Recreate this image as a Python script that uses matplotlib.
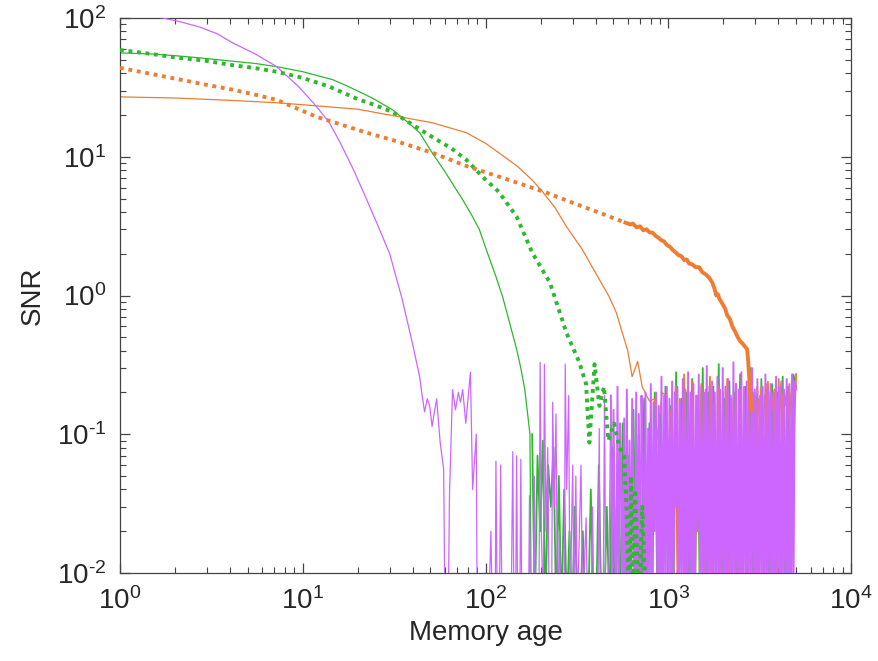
import matplotlib
matplotlib.use('Agg')
import matplotlib.pyplot as plt
import numpy as np
from matplotlib.ticker import FuncFormatter

plt.rcParams['font.family'] = ['Liberation Sans', 'DejaVu Sans']
plt.rcParams['mathtext.fontset'] = 'custom'
plt.rcParams['mathtext.rm'] = 'Liberation Sans'
plt.rcParams['mathtext.it'] = 'Liberation Sans:italic'
plt.rcParams['axes.unicode_minus'] = False

PURPLE = '#cc66ff'
GREEN = '#2db82d'
ORANGE = '#ee7d31'
LOW = 0.005  # noise dips below the axis floor

# purple solid: smooth decay + first noisy part
purple_x = [1, 1.3, 1.72, 2.2, 2.73, 3.4, 4.15, 5.5, 7.2, 9.5, 11.9, 14, 16, 19, 22.4, 26, 29.9,
            35, 40, 43.6, 45, 46.4, 48, 49.5, 51, 54, 56.5, 59, 60, 62.5, 63.5, 66, 68.5, 71, 73,
            75, 78, 82.7, 85, 89, 90,
            104, 107, 109, 113, 114, 116, 119, 121, 123, 138, 141, 143, 146, 148, 150, 154, 156,
            158, 172, 174, 176, 183, 185, 188, 196, 199, 202, 207, 210, 214, 219, 223, 230, 233,
            238, 243, 248, 254, 258, 270, 273, 278, 285, 290, 300, 305, 312, 318, 333, 340, 355,
            362, 378, 385, 392, 412, 419, 425, 440, 448, 455, 470]
purple_y = [112, 107, 100, 93, 86, 77, 66, 55, 44.6, 32, 23, 17.5, 12.7, 8.0, 4.9, 3.1, 2.0,
            0.94, 0.44, 0.26, 0.19, 0.145, 0.18, 0.16, 0.114, 0.18, 0.087, 0.056, LOW, LOW, 0.036,
            0.21, 0.15, 0.2, 0.17, 0.21, 0.12, 0.28, 0.04, 0.1, LOW,
            LOW, 0.02, LOW, LOW, 0.064, LOW, LOW, 0.06, LOW, LOW, 0.075, LOW, LOW, 0.07, LOW, LOW,
            0.066, LOW, LOW, 0.036, LOW, LOW, 0.05, LOW, LOW, 0.33, 0.02, LOW, 0.32, 0.02, 0.08,
            LOW, LOW, 0.17, 0.03, 0.14, LOW, 0.02, LOW, LOW, 0.32, 0.04, 0.19, LOW, 0.06, LOW,
            0.05, LOW, 0.06, LOW, 0.025, LOW, LOW, 0.03, LOW, LOW, 0.11, LOW, LOW, 0.19, LOW, LOW]
# purple dense noise block, 485 .. 5000
purple_tail = [
    0.19, LOW, 0.15, 0.02, LOW, 0.22, LOW, 0.12, 0.04, LOW, 0.13, LOW, 0.21, LOW, 0.09, LOW, 0.18, 0.03, LOW, 0.2,
    LOW, 0.14, LOW, 0.19, 0.06, LOW, 0.2, LOW, 0.11, LOW, 0.23, LOW, 0.17, 0.02, 0.2, LOW, 0.16, LOW, 0.26, LOW,
    0.19, LOW, 0.22, 0.01, 0.18, LOW, 0.24, LOW, 0.2, 0.03, 0.22, LOW, 0.17, LOW, 0.25, LOW, 0.21, LOW, 0.28, LOW,
    0.2, LOW, 0.23, LOW, 0.19, 0.02, 0.27, LOW, 0.22, LOW, 0.2, LOW, 0.31, LOW, 0.22, LOW, 0.24, LOW, 0.2, LOW,
    0.26, LOW, 0.21, LOW, 0.3, LOW, 0.22, LOW, 0.25, LOW, 0.19, LOW, 0.33, LOW, 0.23, LOW, 0.21, LOW, 0.28, LOW,
    0.22, LOW, 0.24, LOW, 0.2, LOW, 0.3, LOW, 0.21, LOW, 0.25, LOW, 0.19, LOW, 0.22, LOW, 0.27, LOW, 0.21, LOW,
    0.23, LOW, 0.2, LOW, 0.26, LOW, 0.22, LOW, 0.24, LOW, 0.21, LOW, 0.25, LOW, 0.23, LOW, 0.27, LOW, 0.24, 0.21]

# green solid
green_x = [1, 1.5, 2, 2.73, 4, 5.5, 7.2, 10, 14.6, 18, 24, 31, 37, 43.6, 51, 60, 68, 75, 84,
           92.6, 101, 114, 124, 134, 148, 156, 164, 170, 175, 178]
green_y = [56, 55, 53.5, 51.6, 49, 47, 44.6, 41, 35.9, 31.8, 26.5, 21.8, 18, 14.9, 10.7, 7.8, 6.0,
           4.9, 3.8, 2.98, 2.14, 1.37, 0.98, 0.67, 0.41, 0.3, 0.21, 0.14, 0.10, LOW]
green_tail = [
    0.1, LOW, 0.07, 0.02, 0.09, LOW, 0.06, 0.03, 0.08, LOW, 0.05, LOW, 0.04, LOW, 0.02, LOW, 0.03, LOW, LOW, 0.02,
    LOW, LOW, 0.04, LOW, LOW, 0.06, LOW, LOW, 0.03, LOW, 0.08, LOW, 0.05, LOW, 0.12, LOW, 0.07, LOW, 0.15, LOW,
    0.1, LOW, 0.18, LOW, 0.12, LOW, 0.2, LOW, 0.14, LOW, 0.22, LOW, 0.16, LOW, 0.28, LOW, 0.18, LOW, 0.2, LOW,
    0.25, LOW, 0.17, LOW, 0.3, LOW, 0.2, LOW, 0.22, LOW, 0.32, LOW, 0.18, LOW, 0.24, LOW, 0.2, LOW, 0.27, LOW,
    0.22, LOW, 0.3, LOW, 0.19, LOW, 0.25, LOW, 0.21, LOW, 0.23, LOW, 0.2, LOW, 0.26, LOW, 0.22, LOW, 0.27, 0.22]

# green dotted
greend_x = [1, 1.5, 2, 3, 4, 5.5, 7.2, 10, 14, 20, 25, 31, 40, 51, 65, 78.6, 96, 118, 148, 180,
            225, 277, 326, 355, 370, 395, 420, 445, 470, 505, 540, 575, 590, 610, 625, 640, 660,
            690, 720, 760]
greend_y = [58.8, 55, 52, 49, 46, 43.5, 41, 37, 32, 26, 23.5, 21, 17, 13.9, 11.5, 9.5, 7.2, 5.6,
            3.7, 2.04, 1.24, 0.54, 0.33, 0.23, 0.087, 0.32, 0.16, 0.22, 0.09, 0.12, 0.08, 0.069, 0.03,
            LOW, 0.05, LOW, 0.04, LOW, 0.03, LOW]

# orange solid
orange_x = [1, 2, 4, 7.2, 10, 15, 20, 33.8, 51, 78.6, 100, 118, 150, 180, 205, 240, 277, 339,
            420, 475, 520, 560, 600, 634, 660, 680, 720, 760, 790, 840, 870, 925, 970]
orange_y = [27, 26.5, 25.5, 24.5, 23.7, 22.7, 22, 19.4, 17.6, 14.9, 12.5, 10.7, 8.5, 6.8, 5.6,
            4.3, 3.14, 2.14, 1.3, 0.98, 0.75, 0.54, 0.4, 0.26, 0.3, 0.335, 0.22, 0.19, 0.173, 0.18,
            0.092, 0.2, 0.19]
orange_tail = [
    0.069, 0.15, 0.02, 0.22, LOW, 0.18, 0.05, 0.27, LOW, 0.2, 0.03, 0.24, LOW, 0.19, 0.06, 0.23, LOW, 0.21, 0.01, 0.26,
    LOW, 0.17, 0.04, 0.22, LOW, 0.2, 0.02, 0.25, LOW, 0.18, 0.03, 0.23, LOW, 0.21, 0.01, 0.19, LOW, 0.24, 0.04, 0.2,
    LOW, 0.22, 0.02, 0.18, LOW, 0.23, 0.03, 0.2, LOW, 0.21, 0.01, 0.25, LOW, 0.19, 0.02, 0.22, LOW, 0.24, 0.1, 0.27]

# orange dotted (dots merge into a thick ragged line past ~600)
oranged_x = [1, 1.8, 2.8, 4.15, 5.5, 7.2, 11.9, 22.4, 31, 51, 80, 118, 160, 216, 300, 420, 583]
oranged_y = [43.7, 37.6, 33.5, 30.4, 28, 25.7, 19.4, 14.9, 13.2, 10.7, 8.5, 7.2, 6.3, 5.5, 4.66,
             3.95, 3.35]
oranged_thick_x = [583, 620, 640, 670, 700, 730, 760, 790, 819, 850, 880, 915, 950, 985, 1020,
                   1060, 1100, 1140, 1180, 1220, 1260, 1300, 1350, 1410, 1474, 1530, 1600, 1670,
                   1740, 1790, 1830, 1870, 1900, 1950, 2000, 2050, 2100, 2170, 2240, 2320, 2400,
                   2470, 2550, 2620, 2700, 2740, 2770, 2810, 2850]
oranged_thick_y = [3.35, 3.25, 3.3, 3.1, 3.15, 2.95, 3.0, 2.85, 2.84, 2.7, 2.62, 2.5, 2.45, 2.3,
                   2.25, 2.12, 2.04, 1.95, 1.92, 1.8, 1.82, 1.7, 1.68, 1.6, 1.6, 1.48, 1.42, 1.35,
                   1.24, 1.12, 1.0, 1.02, 0.95, 0.9, 0.85, 0.8, 0.72, 0.68, 0.6, 0.55, 0.5, 0.47,
                   0.45, 0.43, 0.41, 0.33, 0.26, 0.2, 0.15]
oranged_tail = [0.15, 0.12, 0.2, 0.1, 0.18, 0.13, 0.22, 0.11, 0.19, 0.14, 0.24, 0.12, 0.2, 0.15,
                0.21, 0.1, 0.18, 0.13, 0.23, 0.12, 0.2, 0.16, 0.22, 0.13, 0.19, 0.25, 0.17, 0.27]

ptx = np.geomspace(485, 5000, len(purple_tail))
gtx = np.geomspace(180, 5000, len(green_tail))
otx = np.geomspace(1010, 5000, len(orange_tail))
odx = np.geomspace(2850, 5000, len(oranged_tail))

fig = plt.figure(figsize=(8.79, 6.61), dpi=100)
ax = fig.add_axes([0.1365, 0.1331, 0.8317, 0.8397])

dots = (0, (1, 1.2))
ax.plot(green_x, green_y, color=GREEN, lw=0.9, zorder=2)
ax.plot(gtx, green_tail, color=GREEN, lw=1.3, zorder=2)
ax.plot(orange_x, orange_y, color=ORANGE, lw=0.9, zorder=2)
ax.plot(otx, orange_tail, color=ORANGE, lw=1.3, zorder=2)
ax.plot(purple_x + [ptx[0]], purple_y + [purple_tail[0]], color=PURPLE, lw=0.9, zorder=3)
ax.plot(ptx, purple_tail, color=PURPLE, lw=1.4, zorder=3)
ax.plot(greend_x, greend_y, color=GREEN, lw=2.8, linestyle=dots, zorder=4)
ax.plot(oranged_x, oranged_y, color=ORANGE, lw=2.8, linestyle=dots, zorder=4)
ax.plot(oranged_thick_x, oranged_thick_y, color=ORANGE, lw=2.8, zorder=4)
ax.plot(odx, oranged_tail, color=ORANGE, lw=1.2, zorder=2.5)

ax.set_xscale('log')
ax.set_yscale('log')
ax.set_xlim(1, 1e4)
ax.set_ylim(1e-2, 1e2)


def pow10(v, pos):
    e = int(round(np.log10(v)))
    if e < 0:
        return r'$10^{\text{-}%d}$' % (-e)
    return r'$10^{%d}$' % e


ax.xaxis.set_major_formatter(FuncFormatter(pow10))
ax.yaxis.set_major_formatter(FuncFormatter(pow10))

ax.set_xlabel('Memory age', fontsize=20, color='#262626', labelpad=4)
ax.set_ylabel('SNR', fontsize=20, color='#262626', labelpad=8)
ax.tick_params(which='both', direction='in', top=True, right=True, colors='#444444',
               labelcolor='#262626', labelsize=20)
ax.tick_params(which='major', length=7, width=0.9, pad=10)
ax.tick_params(which='minor', length=4, width=0.8)
for s in ax.spines.values():
    s.set_color('#444444')
    s.set_linewidth(0.9)

fig.savefig('out.png', dpi=100)
